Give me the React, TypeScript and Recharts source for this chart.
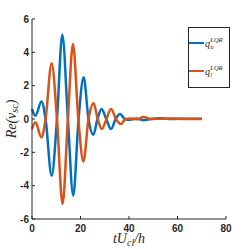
import React from "react";
import { LineChart, Line, XAxis, YAxis } from "recharts";

const blueT = [0, 1.4, 3.9, 5.6, 8.1, 10.3, 12.5, 14.8, 17.0, 19.2, 21.3, 23.3, 25.3, 27.0, 28.7, 30.6, 32.6, 34.5, 36.3, 38.3, 40.5, 43, 46, 49, 53, 58, 63, 70];
const blueV = [0.6, 0.2, 1.05, 0, -3.4, 0, 5.05, 0, -4.6, 0, 2.5, 0, -0.95, 0, 0.6, 0, -0.6, 0, 0.3, 0, -0.05, 0.03, -0.08, 0, 0.04, 0, 0.02, 0.02];
const orangeT = [0, 1.4, 3.9, 5.6, 8.1, 10.3, 12.6, 14.8, 16.9, 19.1, 21.2, 23.3, 25.4, 27.1, 28.8, 30.7, 32.6, 34.6, 36.7, 38.6, 41, 43.5, 46, 49, 53, 58, 63, 70];
const orangeV = [-0.6, -0.2, -1.1, 0, 3.35, 0, -5.1, 0, 4.5, 0, -2.55, 0, 0.95, 0, -0.6, 0, 0.6, 0, -0.3, 0, 0.03, -0.02, 0.12, 0, 0.02, 0.03, 0, 0];
const xTicks = [0, 20, 40, 60, 80];
const yTicks = [-6, -4, -2, 0, 2, 4, 6];

const BLUE = "#0072BD";
const ORANGE = "#D95319";
const AX = "#262626";

const blueData = blueT.map((t, i) => ({ t, v: blueV[i] }));
const orangeData = orangeT.map((t, i) => ({ t, v: orangeV[i] }));

const serif = "'Liberation Serif', 'DejaVu Serif', serif";

const YLabel = (props: any) => {
  const vb = props.viewBox;
  const cx = 11;
  const cy = vb.y + vb.height / 2;
  return (
    <text x={cx} y={cy} transform={`rotate(-90 ${cx} ${cy})`} textAnchor="middle" dominantBaseline="central" fontFamily={serif} fontStyle="italic" fontSize={14} fill={AX}>
      Re(v<tspan fontSize={10} dy={3}>sc</tspan><tspan dy={-3}>)</tspan>
    </text>
  );
};

const XLabel = (props: any) => {
  const vb = props.viewBox;
  const cx = vb.x + vb.width / 2;
  return (
    <text x={cx} y={243} textAnchor="middle" fontFamily={serif} fontStyle="italic" fontSize={14} fill={AX}>
      tU<tspan fontSize={10} dy={3}>cl</tspan><tspan dy={-3}>/h</tspan>
    </text>
  );
};

const LegendBox = () => {
  const item = (color: string, sub: string, top: number) => (
    <div style={{ position: "absolute", left: 0, top, display: "flex", alignItems: "center" }}>
      <div style={{ width: 15, height: 2.5, background: color, marginRight: 1 }} />
      <span style={{ fontFamily: serif, fontStyle: "italic", fontSize: 10, color: AX, display: "inline-flex", alignItems: "center" }}>
        q
        <span style={{ display: "inline-flex", flexDirection: "column", lineHeight: "7px", fontSize: 6.5, marginLeft: 0.3 }}>
          <span>LQR</span>
          <span>{sub}</span>
        </span>
      </span>
    </div>
  );
  return (
    <div style={{ position: "absolute", left: 188, top: 27, width: 42, height: 61, border: `1.5px solid ${AX}`, background: "#fff", boxSizing: "border-box" }}>
      {item(BLUE, "u", 8)}
      {item(ORANGE, "l", 36)}
    </div>
  );
};

export default function App() {
  return (
    <div style={{ position: "absolute", left: 0, top: 0, width: 249, height: 249, background: "#fff" }}>
      <LineChart width={249} height={249} margin={{ top: 19, right: 23, bottom: 0, left: 0 }}>
        <XAxis
          type="number"
          dataKey="t"
          domain={[0, 80]}
          ticks={xTicks}
          allowDuplicatedCategory={false}
          height={30}
          stroke={AX}
          tickSize={-3}
          tickMargin={9}
          tick={{ fill: AX, fontSize: 10, fontWeight: "bold", fontFamily: "'Liberation Sans', Arial, sans-serif" }}
          label={<XLabel />}
        />
        <YAxis
          type="number"
          domain={[-6, 6]}
          ticks={yTicks}
          width={32}
          stroke={AX}
          tickSize={-3}
          tickMargin={6}
          tick={{ fill: AX, fontSize: 10, fontWeight: "bold", fontFamily: "'Liberation Sans', Arial, sans-serif" }}
          label={<YLabel />}
        />
        <Line data={blueData} dataKey="v" type="monotone" stroke={BLUE} strokeWidth={2.5} dot={false} isAnimationActive={false} />
        <Line data={orangeData} dataKey="v" type="monotone" stroke={ORANGE} strokeWidth={2.5} dot={false} isAnimationActive={false} />
      </LineChart>
      <LegendBox />
    </div>
  );
}
